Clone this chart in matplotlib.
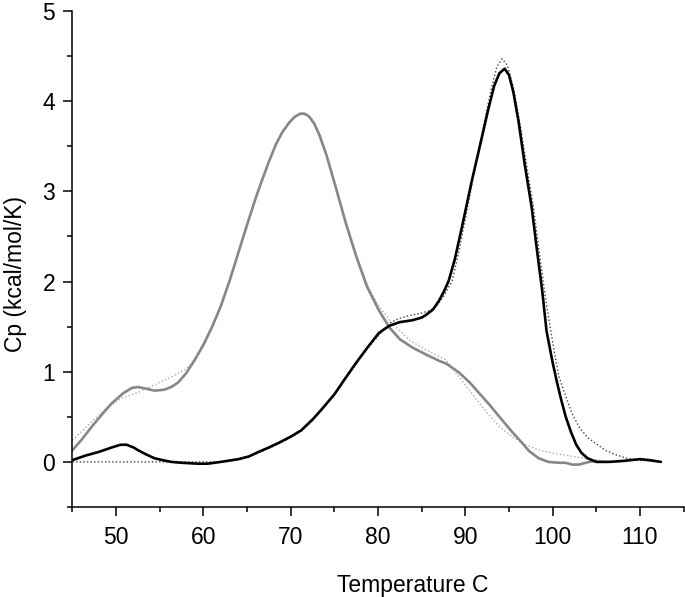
import numpy as np
import matplotlib
matplotlib.use('Agg')
import matplotlib.pyplot as plt
from matplotlib.ticker import MultipleLocator

plt.rcParams['font.family'] = ['Liberation Sans', 'DejaVu Sans']

# gray trace (sample A), measured Cp
t_a = [45.0, 46.0, 47.2, 48.5, 49.5, 50.8, 51.8, 52.5, 53.5, 54.4, 55.5, 56.3,
       57.1, 58.0, 59.0, 60.0, 61.0, 62.0, 63.0, 64.0, 65.0, 66.0, 66.7, 67.5,
       68.3, 69.0, 69.8, 70.5, 71.1, 71.6, 72.1, 72.7, 73.3, 74.1, 75.2, 76.3, 77.5,
       78.75, 80.1, 81.3, 82.5, 83.9, 85.5, 87.0, 87.8, 89.3, 90.5, 91.6, 92.8,
       93.9, 95.2, 96.5, 97.3, 98.4, 99.5, 100.7, 101.5, 102.2, 103.0, 104.2, 105.0]
cp_a = [0.13, 0.24, 0.39, 0.54, 0.65, 0.76, 0.82, 0.83, 0.81, 0.79, 0.80, 0.83,
        0.88, 0.98, 1.13, 1.30, 1.50, 1.73, 2.01, 2.32, 2.63, 2.93, 3.12, 3.33,
        3.52, 3.65, 3.76, 3.83, 3.86, 3.86, 3.83, 3.75, 3.62, 3.40, 3.03, 2.65, 2.28,
        1.94, 1.68, 1.49, 1.36, 1.27, 1.19, 1.12, 1.09, 0.99, 0.88, 0.76, 0.63,
        0.50, 0.35, 0.21, 0.12, 0.04, 0.00, -0.01, -0.01, -0.03, -0.03, 0.00, 0.01]

# gray dotted fit
t_a_fit = [45.0, 46.5, 48.7, 50.5, 52.5, 54.5, 56.3, 58.0, 59.0, 60.0, 61.0, 62.0,
           63.0, 64.0, 65.0, 66.0, 66.7, 67.5, 68.3, 69.0, 69.8, 70.5, 71.1, 71.6,
           72.1, 72.7, 73.3, 74.1, 75.2, 76.3, 77.5, 78.75, 80.0, 81.5, 83.6, 85.5, 87.0,
           87.8, 89.3, 90.5, 91.6, 92.8, 93.9, 95.5, 96.9, 98.5, 99.9, 101.1, 103.0,
           104.2, 106.0]
cp_a_fit = [0.24, 0.38, 0.58, 0.70, 0.77, 0.86, 0.94, 1.03, 1.13, 1.28, 1.48, 1.72,
            2.00, 2.32, 2.63, 2.93, 3.12, 3.33, 3.52, 3.66, 3.77, 3.84, 3.87, 3.87,
            3.84, 3.76, 3.63, 3.41, 3.04, 2.67, 2.30, 1.96, 1.74, 1.55, 1.35, 1.24, 1.17,
            1.13, 0.94, 0.79, 0.65, 0.51, 0.39, 0.27, 0.19, 0.13, 0.10, 0.08, 0.05,
            0.03, 0.01]

# black trace (sample B), measured Cp
t_b = [45.0, 46.5, 48.0, 49.5, 50.5, 51.2, 52.0, 52.5, 53.5, 54.4, 55.3, 56.3,
       57.5, 59.4, 60.5, 62.0, 64.0, 65.2, 66.3, 67.5, 68.6, 70.0, 71.2, 72.5,
       73.7, 75.0, 76.2, 77.5, 78.8, 80.1, 81.3, 82.5, 83.9, 85.0, 85.5, 86.3,
       87.0, 87.6, 88.1, 88.8, 89.6, 90.7, 91.8, 92.6, 93.3, 93.9, 94.5, 95.0,
       95.5, 96.1, 96.8, 97.6, 98.2, 98.8, 99.3, 100.0, 100.5, 101.0, 101.5, 102.1,
       102.7, 103.3, 104.0, 105.0, 106.5, 108.0, 109.0, 110.0, 111.0, 112.4]
cp_b = [0.02, 0.07, 0.11, 0.16, 0.19, 0.19, 0.16, 0.13, 0.08, 0.04, 0.02, 0.00,
        -0.01, -0.02, -0.02, 0.00, 0.03, 0.06, 0.11, 0.16, 0.21, 0.28, 0.35, 0.47,
        0.60, 0.75, 0.92, 1.10, 1.27, 1.43, 1.51, 1.55, 1.57, 1.60, 1.63, 1.69,
        1.79, 1.90, 2.01, 2.25, 2.60, 3.10, 3.56, 3.90, 4.17, 4.31, 4.36, 4.29,
        4.10, 3.77, 3.30, 2.82, 2.35, 1.90, 1.45, 1.10, 0.88, 0.68, 0.50, 0.33,
        0.19, 0.10, 0.04, 0.00, 0.00, 0.01, 0.02, 0.03, 0.02, 0.00]

# black dotted fit
t_b_fit = [45.0, 62.0, 63.0, 64.0, 65.2, 66.3, 67.5, 68.6, 70.0, 71.2, 72.5, 73.7,
           75.0, 76.2, 77.5, 78.8, 80.5, 81.5, 82.4, 83.5, 85.0, 86.0, 86.8, 87.6,
           88.5, 89.3, 90.2, 91.2, 92.2, 93.0, 93.6, 94.2, 94.8, 95.5, 96.2, 97.0,
           97.8, 98.5, 99.2, 100.1, 100.7, 101.6, 102.2, 103.0, 104.0, 105.0, 106.0,
           107.2, 108.5, 109.9, 111.0]
cp_b_fit = [0.0, 0.0, 0.01, 0.03, 0.06, 0.10, 0.15, 0.20, 0.27, 0.34, 0.46, 0.59,
            0.74, 0.91, 1.09, 1.26, 1.45, 1.55, 1.59, 1.62, 1.65, 1.68, 1.74, 1.85,
            2.01, 2.35, 2.80, 3.30, 3.78, 4.15, 4.38, 4.47, 4.40, 4.15, 3.78, 3.30,
            2.82, 2.30, 1.80, 1.27, 0.95, 0.70, 0.54, 0.39, 0.27, 0.20, 0.13,
            0.08, 0.04, 0.02, 0.01]

fig = plt.figure(figsize=(6.85, 5.97), dpi=100)
ax = fig.add_axes([0.1058, 0.1508, 0.8922, 0.8308])

ax.plot(t_a_fit, cp_a_fit, color='#a8a8a8', lw=1.0, ls=(0, (1, 1.6)))
ax.plot(t_b_fit, cp_b_fit, color='#404040', lw=1.0, ls=(0, (1, 1.6)))
ax.plot(t_a, cp_a, color='#878787', lw=1.9, solid_joinstyle='round', solid_capstyle='round')
ax.plot(t_b, cp_b, color='black', lw=1.9, solid_joinstyle='round', solid_capstyle='round')

ax.set_xlim(45, 115)
ax.set_ylim(-0.5, 5)
ax.xaxis.set_major_locator(MultipleLocator(10))
ax.xaxis.set_minor_locator(MultipleLocator(5))
ax.yaxis.set_major_locator(MultipleLocator(1))
ax.yaxis.set_minor_locator(MultipleLocator(0.5))
ax.set_xticks(np.arange(50, 111, 10))

for side in ['top', 'right']:
	ax.spines[side].set_visible(False)
for side in ['left', 'bottom']:
	ax.spines[side].set_linewidth(1.1)

ax.tick_params(which='major', direction='out', length=6.5, width=1.1, labelsize=16.5, pad=6)
ax.tick_params(which='minor', direction='out', length=3.5, width=1.1)
ax.tick_params(axis='x', which='major', pad=7)

ax.set_xlabel('Temperature C', fontsize=16.5)
ax.set_ylabel('Cp (kcal/mol/K)', fontsize=16.5)
ax.xaxis.set_label_coords(0.556, -0.135)
ax.yaxis.set_label_coords(-0.074, 0.47)

fig.savefig('out.png', dpi=100)
